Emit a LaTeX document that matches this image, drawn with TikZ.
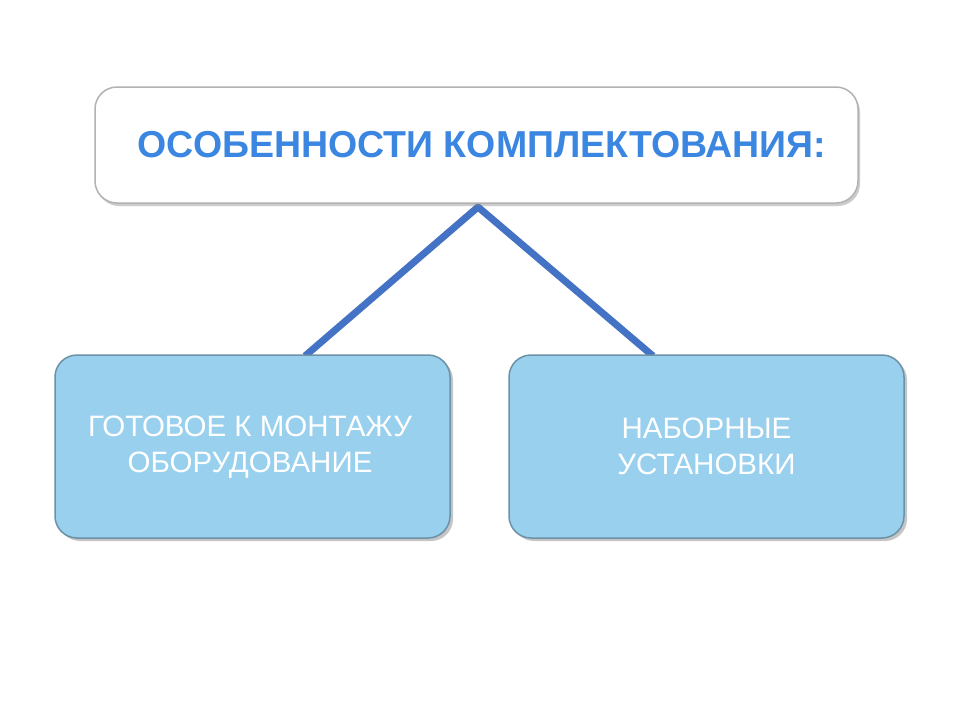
\documentclass[tikz,border=0pt]{standalone}
\usepackage{fontspec}
\setmainfont{Liberation Sans}
\usetikzlibrary{shadows,calc}
\definecolor{titleblue}{HTML}{3A86E0}
\definecolor{linkblue}{HTML}{4472C4}
\definecolor{boxblue}{HTML}{99D0EE}
\begin{document}
\begin{tikzpicture}[x=1pt,y=-1pt,
  topbox/.style={draw=gray!60,line width=1.5pt,fill=white,rounded corners=22pt,minimum width=763pt,minimum height=116pt,drop shadow={shadow xshift=2pt,shadow yshift=-3pt,opacity=0.4}},
  subbox/.style={draw=boxblue!70!black,line width=1.5pt,fill=boxblue,rounded corners=22pt,minimum width=395pt,minimum height=183pt,align=center,text=white,font=\fontsize{29.5}{36}\selectfont,drop shadow={shadow xshift=3pt,shadow yshift=-3pt,opacity=0.45}},
  link/.style={draw=linkblue,line width=7pt}]
\useasboundingbox (0,0) rectangle (960,720);
\fill[white] (0,0) rectangle (960,720);
\coordinate (apex) at (478,207);
\coordinate (lend) at (305,356);
\coordinate (rend) at (653,356);
\draw[link] (lend) -- (apex) -- (rend);
\node[topbox] (top) at (476.5,145) {};
\node[text=titleblue,font=\bfseries\fontsize{37.5}{44}\selectfont] (title) at (482,145) {ОСОБЕННОСТИ КОМПЛЕКТОВАНИЯ:};
\node[subbox] (left) at (252.5,446.5) {};
\node[text=white,align=center,font=\fontsize{29.5}{36}\selectfont] (ltext) at (250,447) {ГОТОВОЕ К МОНТАЖУ\\ОБОРУДОВАНИЕ};
\node[subbox] (right) at (706.5,446.5) {НАБОРНЫЕ\\УСТАНОВКИ};
\end{tikzpicture}
\end{document}
